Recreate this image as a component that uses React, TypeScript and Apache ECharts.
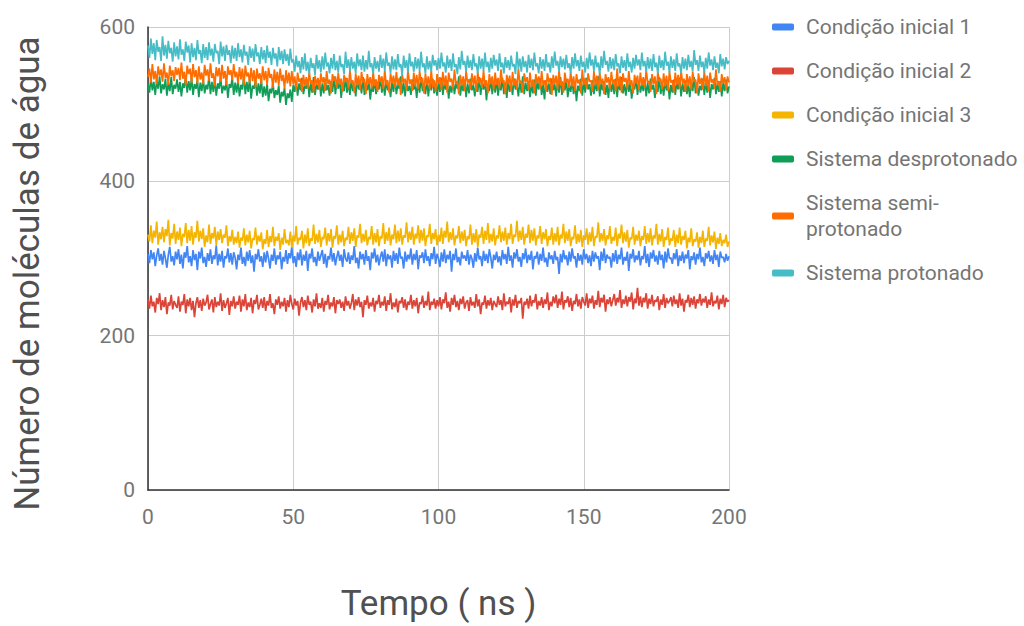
import React, { useEffect, useRef } from "react";
import * as echarts from "echarts";

// Number of water molecules per frame, one sample every 0.5 ns (0..200 ns)
const STEP_NS = 0.5;

const condicao1 = [
  306,294,311,299,308,290,304,313,297,306,292,310,300,288,305,315,296,303,291,309,
  299,312,293,305,287,308,301,316,295,303,290,311,298,306,285,309,300,314,294,302,
  289,307,297,312,293,304,299,317,291,306,296,310,288,303,300,313,295,307,292,308,
  301,286,305,298,314,293,302,290,309,297,311,294,304,283,306,299,312,296,303,289,
  308,295,310,300,287,305,297,313,292,304,299,309,286,302,296,311,293,307,300,315,
  294,303,289,308,298,312,291,305,297,310,284,306,300,313,295,302,290,309,297,304,
  311,293,306,288,303,299,314,296,307,291,302,310,297,305,289,312,300,296,308,293,
  304,298,316,294,301,287,309,299,306,292,311,297,303,285,308,300,313,295,305,291,
  302,309,296,312,290,306,299,304,288,310,297,307,293,314,300,302,287,309,296,305,
  299,313,292,306,298,311,286,304,301,308,294,312,297,303,290,307,299,315,293,306,
  300,289,308,296,312,294,305,299,310,283,306,298,313,295,302,291,309,300,304,297,
  311,292,305,300,288,307,296,314,299,303,290,310,297,306,294,312,301,287,305,298,
  309,295,303,291,311,299,306,293,315,297,304,288,308,300,312,296,302,289,307,299,
  313,294,305,298,310,286,303,300,309,292,306,297,314,295,301,289,308,299,304,293,
  310,298,302,280,306,295,311,299,304,291,309,296,313,300,303,288,307,297,305,292,
  312,299,306,294,304,290,310,296,308,300,303,285,309,297,313,294,305,300,302,288,
  307,296,311,293,305,299,314,292,302,297,309,284,306,300,312,295,304,298,310,291,
  303,299,316,294,306,289,308,300,311,296,304,292,310,298,305,287,309,295,313,300,
  301,293,307,299,312,290,304,297,309,294,305,300,311,286,303,298,308,292,306,299,
  314,295,302,290,307,300,310,296,304,293,311,298,305,289,309,301,302,295,306,297,
  303,
];

const condicao2 = [
  247,235,252,238,244,230,249,241,255,233,246,237,250,228,243,239,253,234,245,240,
  236,251,231,244,240,254,229,247,238,249,233,245,224,242,250,236,246,232,248,239,
  243,253,234,241,247,230,250,237,244,239,255,232,246,236,242,249,227,245,238,251,
  235,244,240,252,231,247,238,254,233,243,237,249,229,246,241,253,234,240,248,236,
  250,232,245,239,254,236,242,228,247,240,251,235,244,238,249,231,246,237,253,241,
  234,248,239,245,226,243,250,237,246,233,252,240,244,230,247,238,255,235,242,236,
  249,231,245,240,253,234,243,238,250,229,246,241,247,236,244,232,251,239,245,235,
  242,254,233,247,239,250,237,244,224,246,240,252,235,243,238,249,231,245,241,253,
  236,244,239,251,232,246,240,255,234,243,237,248,230,245,242,250,236,247,233,244,
  240,253,235,246,238,249,229,243,241,252,236,245,239,257,233,244,240,248,235,246,
  238,250,234,247,242,256,236,244,231,249,240,253,237,245,233,248,241,251,235,243,
  246,232,250,239,244,236,254,238,247,228,243,240,252,235,246,239,249,233,245,241,
  237,251,240,246,233,255,238,244,241,250,230,247,239,253,236,245,242,249,222,244,
  240,248,235,252,238,246,243,254,234,245,239,250,236,247,241,256,233,244,238,251,
  242,253,236,248,240,257,234,246,243,251,237,249,232,245,241,254,238,247,235,250,
  244,239,255,236,248,242,252,235,246,240,258,237,249,243,253,231,247,241,250,238,
  246,254,239,249,243,259,236,247,241,252,238,250,244,256,234,248,242,262,239,251,
  237,249,243,255,235,248,241,253,238,246,244,251,233,247,240,254,236,249,242,245,
  250,238,252,241,247,236,255,239,248,231,246,243,253,237,249,240,251,235,247,242,
  254,239,248,243,251,236,247,240,256,238,245,242,252,234,248,241,253,237,249,244,
  246,
];

const condicao3 = [
  331,322,343,320,336,327,348,318,334,325,341,321,338,329,350,317,333,326,345,319,
  335,324,340,316,332,328,346,320,337,323,342,318,334,327,349,322,336,325,339,315,
  330,321,344,319,333,326,341,317,335,324,338,320,331,327,343,316,329,322,337,318,
  328,320,335,314,327,323,339,317,331,321,336,313,326,324,340,318,330,322,334,312,
  325,319,337,315,329,321,341,316,328,323,333,311,327,318,338,320,324,317,335,314,
  330,322,342,318,327,324,336,313,331,320,339,316,326,323,344,319,332,321,337,315,
  328,325,340,317,333,322,338,314,329,326,343,318,331,321,336,316,327,324,341,319,
  334,323,339,315,330,327,345,320,332,322,337,317,328,325,342,318,333,321,338,316,
  329,326,346,319,334,323,340,317,331,325,344,320,336,322,339,318,330,327,347,321,
  335,324,341,318,332,326,343,320,337,323,339,316,330,328,345,319,333,325,338,317,
  331,322,340,319,336,327,348,321,334,324,339,317,330,326,342,320,335,323,337,316,
  329,325,344,318,333,321,338,315,331,327,341,319,336,324,346,320,332,322,339,317,
  330,326,343,321,335,323,340,318,333,325,345,319,331,328,349,322,336,324,341,318,
  332,327,344,320,337,323,339,317,330,326,342,319,334,325,338,316,329,324,340,318,
  333,322,341,317,331,326,345,320,335,323,338,316,328,325,343,319,332,321,337,315,
  330,324,339,318,334,322,341,316,329,327,347,321,333,323,338,317,330,325,342,319,
  328,323,340,316,332,326,344,320,334,322,337,314,327,325,341,318,331,323,336,316,
  329,324,342,319,333,321,339,317,330,326,345,318,332,322,338,315,328,324,340,317,
  326,323,337,315,331,320,340,318,329,324,336,313,327,321,339,316,325,322,334,314,
  328,320,336,315,326,323,341,317,330,321,335,312,327,319,333,316,324,320,331,315,
  322,
];

const desprotonado = [
  527,515,534,518,529,512,531,520,536,514,526,519,533,511,528,517,535,513,525,520,
  532,516,529,510,527,521,537,515,530,518,534,512,526,520,531,509,528,517,533,514,
  525,519,536,513,529,516,532,511,527,520,535,514,524,518,530,508,526,521,534,512,
  528,515,531,510,525,519,537,513,529,516,533,507,524,520,531,511,527,514,532,509,
  523,511,526,504,520,514,528,508,518,512,524,502,516,510,521,499,514,508,519,503,
  525,516,530,511,527,518,534,513,524,520,532,509,528,515,535,512,526,519,531,510,
  527,514,533,518,525,511,530,516,536,513,529,520,532,508,526,517,534,515,528,512,
  531,517,526,510,533,519,528,514,535,512,527,518,530,506,524,516,532,513,529,519,
  534,515,527,511,531,518,525,509,529,516,533,513,526,520,536,514,528,510,530,517,
  524,512,532,519,527,508,530,515,535,517,526,513,531,510,528,518,533,514,525,511,
  529,516,534,512,527,519,531,507,524,515,530,513,528,520,536,511,526,517,532,509,
  527,514,533,518,525,510,529,516,535,512,528,519,531,505,526,517,533,513,529,515,
  532,511,526,518,534,513,528,508,530,516,527,512,533,519,525,510,531,515,536,513,
  528,517,530,509,526,514,532,511,529,519,534,512,525,506,531,516,527,513,533,518,
  526,510,530,515,535,512,528,518,532,509,525,516,531,513,527,504,524,517,533,511,
  529,515,534,519,526,511,531,513,528,517,536,510,527,518,530,512,525,508,532,516,
  527,513,533,509,529,518,535,514,526,511,531,516,528,507,524,519,534,512,530,515,
  526,517,532,510,528,514,533,519,525,508,530,516,535,513,527,511,531,518,529,506,
  525,515,532,512,528,519,534,510,527,516,531,513,526,509,530,517,535,514,528,511,
  524,518,533,512,529,515,531,508,526,519,534,513,527,516,530,510,528,517,532,514,
  523,
];

const semiProtonado = [
  535,546,528,552,532,543,526,549,537,545,529,553,534,541,525,550,536,544,530,548,
  538,547,531,554,533,542,524,550,539,546,528,552,535,544,527,549,532,541,526,551,
  537,545,530,553,534,540,523,548,536,547,529,551,533,543,525,549,538,544,531,552,
  535,542,527,548,532,546,524,550,536,541,528,547,530,544,522,546,533,540,526,549,
  531,543,525,547,534,539,521,545,528,542,524,546,530,538,520,544,527,541,523,543,
  526,536,518,541,529,533,516,538,524,535,520,542,527,531,515,537,525,534,519,540,
  528,535,517,543,526,532,514,539,530,536,521,541,525,533,516,538,529,534,520,544,
  527,531,515,540,524,537,518,542,528,533,513,539,526,535,520,543,523,532,516,538,
  529,536,519,544,525,531,515,540,527,537,521,542,524,534,512,539,528,533,518,545,
  526,532,517,541,523,538,520,543,528,534,514,540,525,536,519,544,522,531,516,539,
  527,535,518,542,524,537,515,541,529,533,520,545,526,530,513,538,524,536,517,543,
  528,532,519,540,525,537,516,542,527,534,521,544,523,531,514,539,526,536,518,541,
  525,534,520,545,528,531,513,538,526,537,517,542,524,533,519,546,527,530,515,540,
  529,535,518,541,522,532,514,539,527,536,520,543,525,531,516,540,528,534,512,538,
  526,537,519,544,524,530,515,541,528,533,521,542,523,536,517,539,527,532,514,545,
  525,534,520,540,529,531,516,543,524,537,518,541,526,533,513,539,528,535,519,542,
  527,532,517,546,523,536,515,540,529,534,520,543,525,531,514,538,527,537,518,541,
  524,535,521,544,528,530,516,539,526,536,513,542,529,533,519,540,523,537,517,543,
  528,531,515,541,525,538,520,544,527,533,516,539,524,536,518,542,529,532,514,540,
  526,534,519,543,523,537,517,541,528,532,520,545,525,530,516,539,527,535,518,536,
  528,
];

const protonado = [
  576,560,585,565,579,557,583,568,574,556,588,563,577,559,582,566,573,555,580,562,
  575,558,584,564,571,556,581,567,576,554,579,561,573,557,583,565,570,553,578,560,
  574,557,580,563,572,555,578,566,569,552,581,562,575,556,577,564,570,553,576,559,
  573,556,579,561,571,554,577,563,568,551,575,560,572,555,578,562,567,552,574,558,
  570,553,576,560,568,551,573,559,566,549,574,557,569,552,571,556,565,550,572,554,
  558,542,563,548,556,540,561,545,566,543,555,539,560,547,553,538,564,546,557,541,
  562,545,567,549,554,540,560,546,565,544,556,541,563,548,552,539,568,547,558,543,
  561,546,555,540,566,549,558,544,563,542,557,545,569,548,553,539,561,546,556,542,
  564,547,559,543,567,550,554,540,562,545,558,544,565,548,552,538,563,547,557,541,
  566,549,555,542,561,546,559,543,568,548,553,540,562,545,556,542,564,550,557,544,
  560,546,567,549,554,541,563,547,558,543,566,548,552,539,561,545,569,551,556,542,
  563,547,557,544,565,549,553,540,562,546,559,543,567,548,555,541,560,546,564,550,
  558,543,566,548,554,540,561,547,557,544,563,549,552,539,568,546,559,542,562,548,
  556,541,564,547,559,544,567,549,553,540,561,546,558,543,565,548,554,541,562,547,
  568,550,556,542,562,548,559,545,564,547,553,540,561,546,566,549,557,543,563,548,
  555,541,560,546,567,550,558,543,563,548,554,539,562,547,569,551,556,542,561,546,
  559,544,565,549,553,540,562,547,557,543,566,548,555,541,560,546,564,550,558,544,
  567,549,556,542,561,546,559,543,565,548,554,540,563,547,557,544,568,550,555,541,
  562,547,558,543,566,549,553,540,561,546,559,544,564,548,556,542,570,551,557,543,
  563,548,555,541,560,546,567,550,558,544,562,547,554,540,565,549,559,545,561,552,
  556,
];

const seriesNames = [
  "Condição inicial 1",
  "Condição inicial 2",
  "Condição inicial 3",
  "Sistema desprotonado",
  "Sistema semi-protonado",
  "Sistema protonado",
];
const seriesValues = [condicao1, condicao2, condicao3, desprotonado, semiProtonado, protonado];
const colors = ["#4285F4", "#DB4437", "#F4B400", "#0F9D58", "#FF6D00", "#46BDC6"];

const xTicks = [0, 50, 100, 150, 200];
const yTicks = [0, 200, 400, 600];

const legendLabels: Record<string, string> = {
  "Sistema semi-protonado": "Sistema semi-\nprotonado",
};

export default function App() {
  const ref = useRef<HTMLDivElement>(null);

  useEffect(() => {
    if (!ref.current) return;
    const chart = echarts.init(ref.current, undefined, { renderer: "svg" });
    const font = "Roboto, Arial, sans-serif";

    chart.setOption({
      animation: false,
      color: colors,
      textStyle: { fontFamily: font },
      grid: { left: 148, right: 295, top: 27, bottom: 132, containLabel: false },
      legend: {
        orient: "vertical",
        left: 772,
        top: 14,
        padding: 0,
        itemWidth: 22,
        itemHeight: 7,
        itemGap: 18,
        icon: "roundRect",
        data: seriesNames,
        formatter: (name: string) => legendLabels[name] ?? name,
        textStyle: {
          color: "#757575",
          fontSize: 21,
          fontFamily: font,
          lineHeight: 26,
          padding: [0, 0, 0, 7],
        },
      },
      xAxis: {
        type: "value",
        min: xTicks[0],
        max: xTicks[xTicks.length - 1],
        interval: 50,
        name: "Tempo ( ns )",
        nameLocation: "middle",
        nameGap: 96,
        nameTextStyle: { color: "#505050", fontSize: 35, fontFamily: font },
        axisLine: { show: true, lineStyle: { color: "#333", width: 1.5 } },
        axisTick: { show: false },
        axisLabel: { color: "#757575", fontSize: 21, margin: 16, fontFamily: font },
        splitLine: { show: true, lineStyle: { color: "#ccc", width: 1 } },
      },
      yAxis: {
        type: "value",
        min: yTicks[0],
        max: yTicks[yTicks.length - 1],
        interval: 200,
        name: "Número de moléculas de água",
        nameLocation: "middle",
        nameGap: 103,
        nameTextStyle: {
          color: "#505050",
          fontSize: 35,
          fontFamily: font,
          // shifts the rotated title a little below the plot's middle
          padding: [0, 30, 0, 0],
        },
        axisLine: { show: true, lineStyle: { color: "#333", width: 1.5 } },
        axisTick: { show: false },
        axisLabel: { color: "#757575", fontSize: 21, margin: 13, fontFamily: font },
        splitLine: { show: true, lineStyle: { color: "#ccc", width: 1 } },
      },
      series: seriesNames.map((name, i) => ({
        name,
        type: "line",
        showSymbol: false,
        symbol: "none",
        lineStyle: { width: 1.7, color: colors[i] },
        itemStyle: { color: colors[i] },
        data: seriesValues[i].map((v, k) => [k * STEP_NS, v]),
      })),
    });

    return () => chart.dispose();
  }, []);

  return <div ref={ref} style={{ width: 1024, height: 626, position: "absolute", left: 0, top: 0 }} />;
}
